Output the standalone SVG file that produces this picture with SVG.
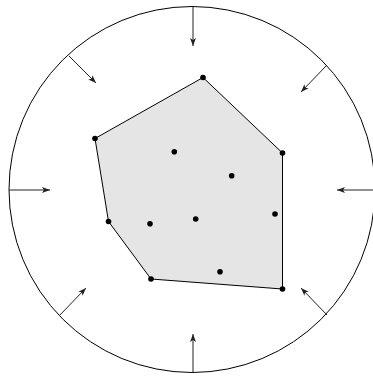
<svg xmlns="http://www.w3.org/2000/svg" width="373" height="376" viewBox="0 0 373 376">
<style>
.ln{stroke:#000;stroke-width:1;fill:none}
.arr{stroke:#222;stroke-width:1;fill:none;marker-end:url(#ah)}
.pt{fill:#000}
</style>
<defs>
<marker id="ah" markerUnits="userSpaceOnUse" markerWidth="12" markerHeight="8" viewBox="-10 -4 12 8" refX="0" refY="0" orient="auto">
<path d="M0,0 L-8,-3 L-6,0 L-8,3 Z" fill="#222"/>
</marker>
</defs>
<rect width="373" height="376" fill="#fff"/>
<g id="boundary"><circle class="ln" cx="192" cy="189.5" r="183"/></g>
<g id="hull"><polygon points="203,77.5 282.5,153 282.5,289 151,279 108.5,221.5 95,138.5" fill="#e5e5e5" stroke="#000" stroke-width="1"/></g>
<g id="points">
<circle class="pt" cx="203" cy="77.5" r="2.8"/>
<circle class="pt" cx="282.5" cy="153" r="2.8"/>
<circle class="pt" cx="282.5" cy="289" r="2.8"/>
<circle class="pt" cx="151" cy="279" r="2.8"/>
<circle class="pt" cx="108.5" cy="221.5" r="2.8"/>
<circle class="pt" cx="95" cy="138.5" r="2.8"/>
<circle class="pt" cx="174.3" cy="151.7" r="2.8"/>
<circle class="pt" cx="231.7" cy="175.7" r="2.8"/>
<circle class="pt" cx="275" cy="214" r="2.8"/>
<circle class="pt" cx="195.7" cy="219" r="2.8"/>
<circle class="pt" cx="150" cy="223.7" r="2.8"/>
<circle class="pt" cx="220" cy="271.7" r="2.8"/>
</g>
<g id="connectors">
<line class="arr" x1="193" y1="6.5" x2="193" y2="46"/>
<line class="arr" x1="193" y1="372.5" x2="193" y2="334"/>
<line class="arr" x1="9" y1="190" x2="50" y2="190"/>
<line class="arr" x1="374" y1="190" x2="337" y2="190"/>
<line class="arr" x1="69" y1="56" x2="96" y2="83"/>
<line class="arr" x1="327" y1="65" x2="301" y2="92"/>
<line class="arr" x1="59" y1="316" x2="86" y2="288"/>
<line class="arr" x1="327" y1="315" x2="301" y2="288"/>
</g>
</svg>
